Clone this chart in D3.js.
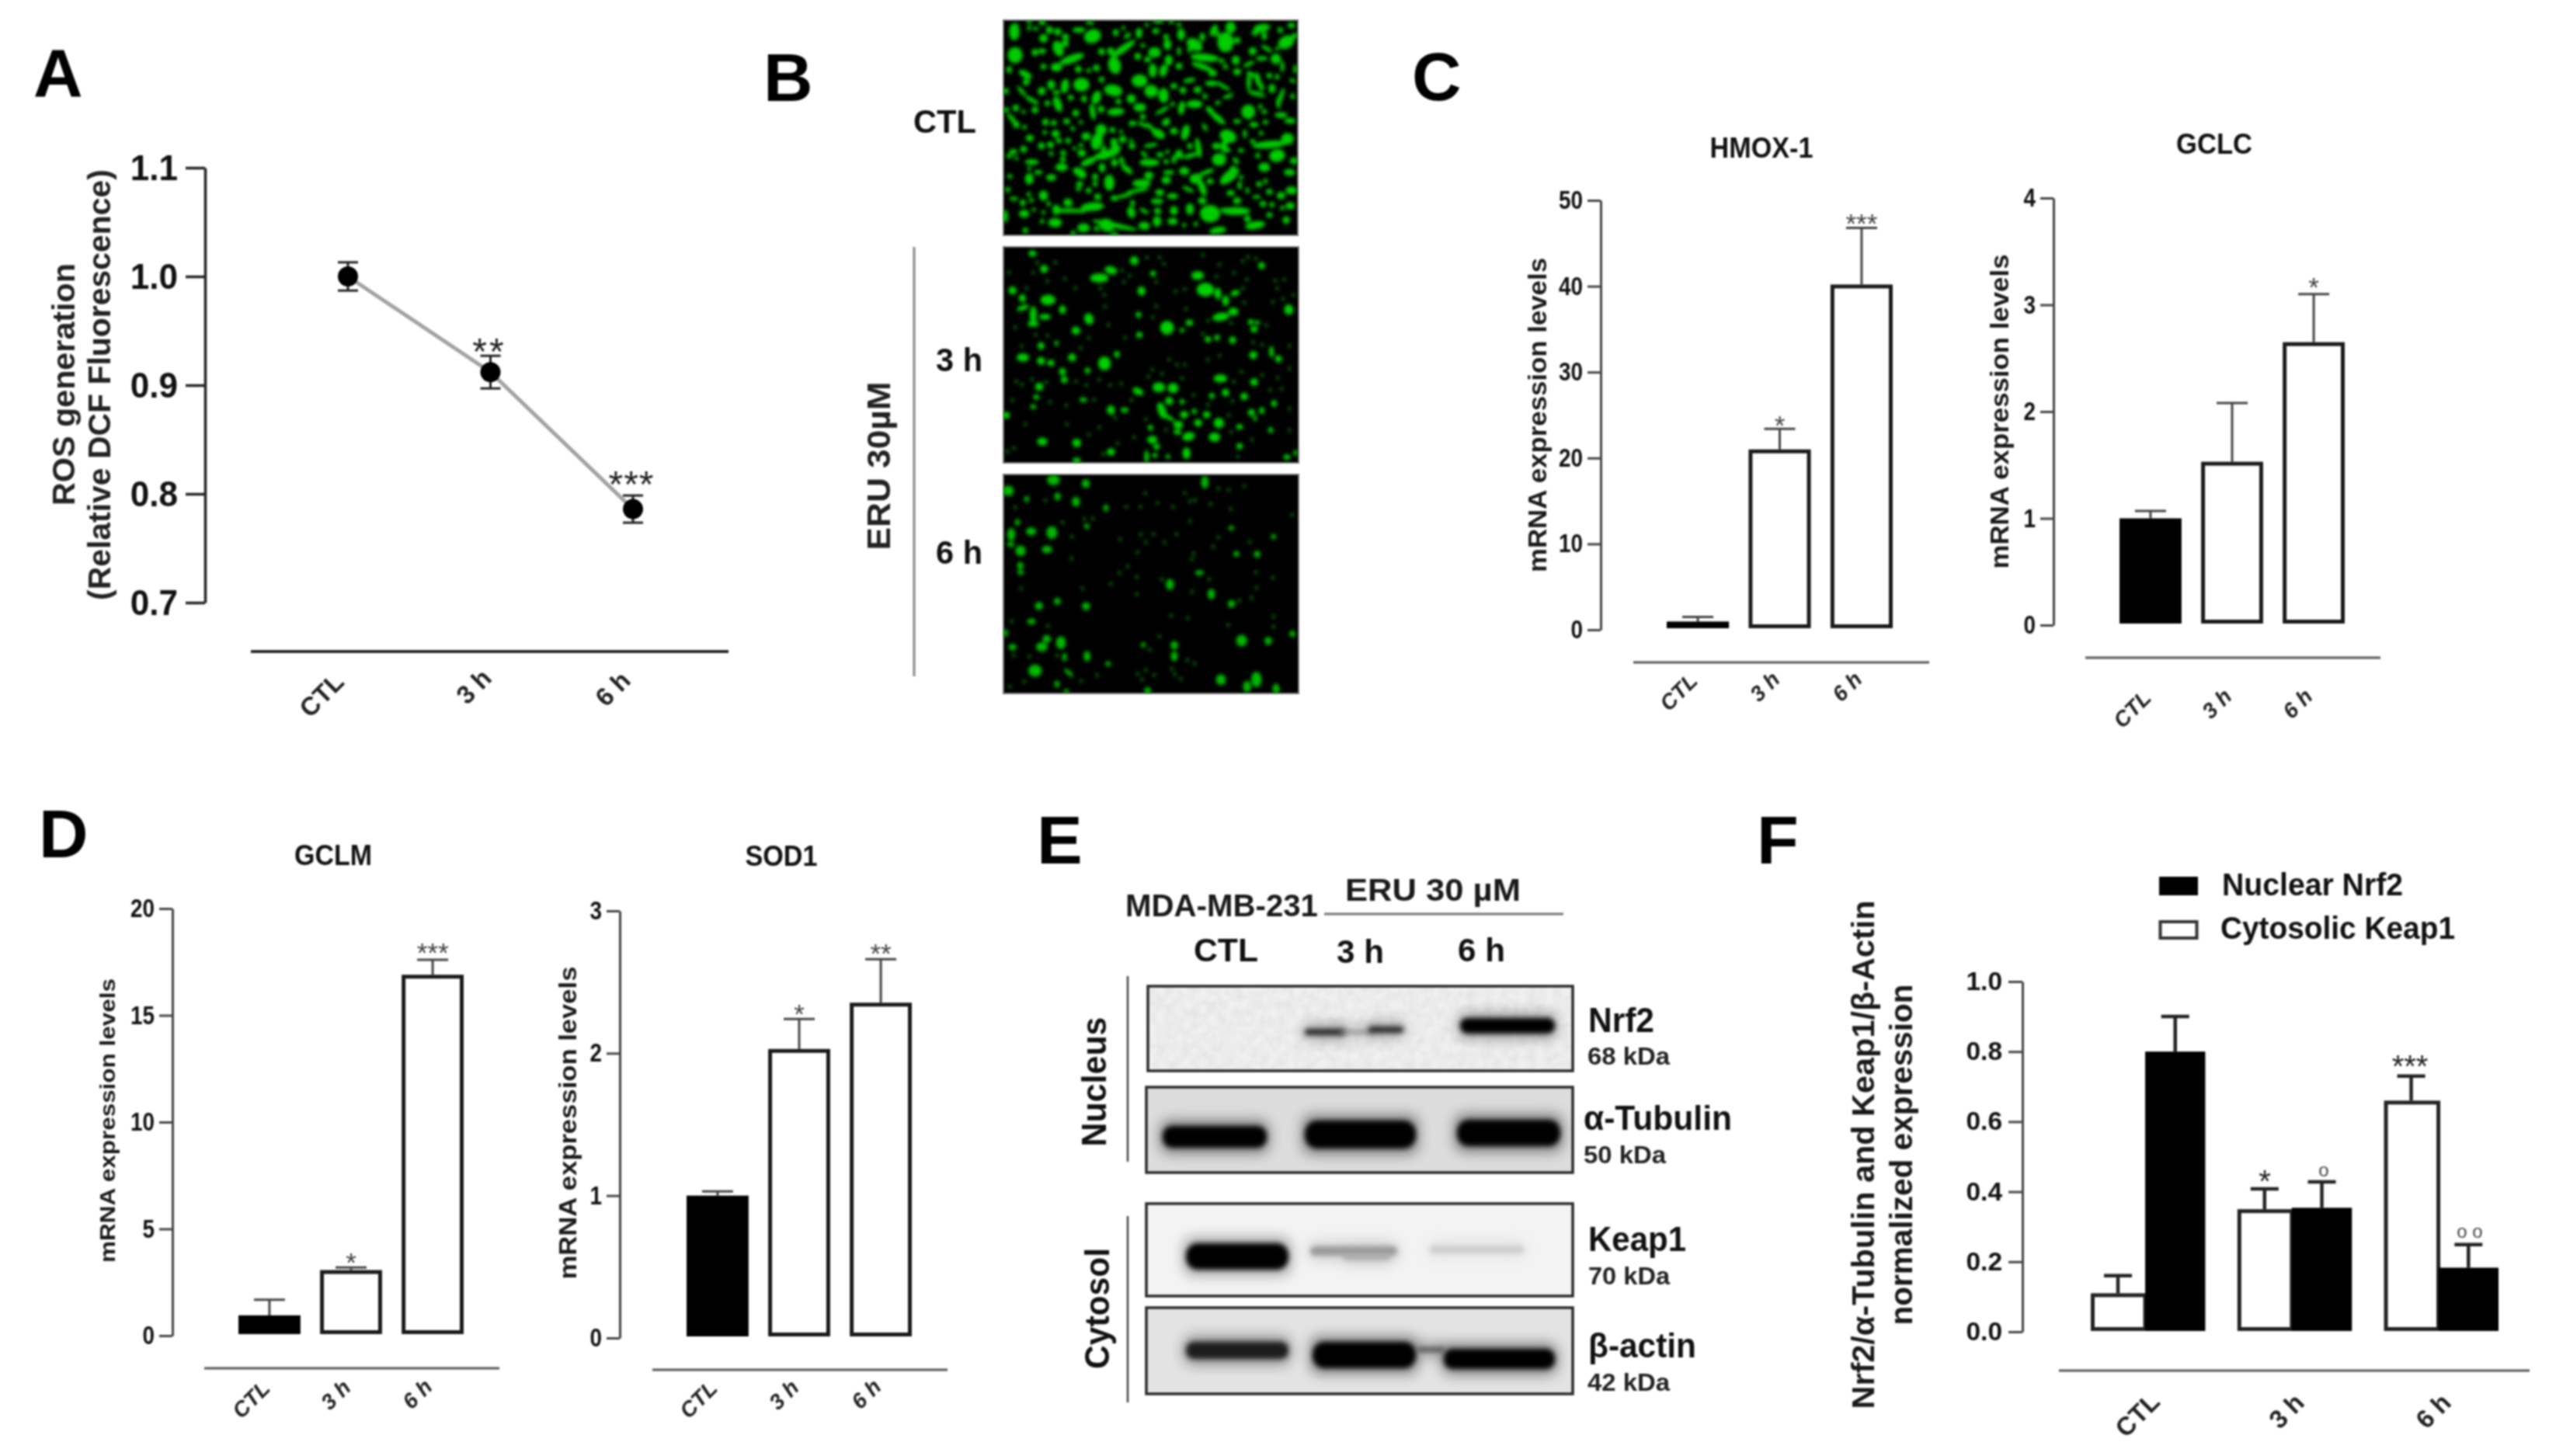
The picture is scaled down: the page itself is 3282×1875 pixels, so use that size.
<!DOCTYPE html>
<html><head><meta charset="utf-8">
<script src="https://cdnjs.cloudflare.com/ajax/libs/d3/7.8.5/d3.min.js"></script>
<style>html,body{margin:0;padding:0;background:#fff}svg{display:block;filter:blur(.8px)}</style></head>
<body><script>
// ---------- data ----------
const timeLabels = ["CTL","3 h","6 h"];
const rosMean = [1.0,0.912,0.786];
const rosErr = [0.013,0.015,0.0125];
const rosStars = ["","**","***"];
const rosTicks = [0.7,0.8,0.9,1.0,1.1];

const hmoxMean = [0.96,21,40.2], hmoxTop = [1.5,23.4,46.8], hmoxStars = ["","*","***"], hmoxTicks=[0,10,20,30,40,50];
const gclcMean = [1.0,1.53,2.65], gclcTop = [1.07,2.08,3.10], gclcStars = ["","","*"], gclcTicks=[0,1,2,3,4];
const gclmMean = [0.95,3.07,16.9], gclmTop = [1.68,3.19,17.6], gclmStars = ["","*","***"], gclmTicks=[0,5,10,15,20];
const sod1Mean = [1.0,2.03,2.355], sod1Top = [1.03,2.24,2.66], sod1Stars = ["","*","**"], sod1Ticks=[0,1,2,3];

const keap1Mean = [0.11,0.35,0.66], keap1Top = [0.16,0.408,0.73], keap1Marks = ["","*","***"];
const nrf2Mean = [0.80,0.354,0.183], nrf2Top = [0.90,0.428,0.249], nrf2Marks = ["","o","o o"];
const fTicks = [0,0.2,0.4,0.6,0.8,1.0];

// fluorescence spots: x, y, rx, ry, rotation (image pixel grid 1140 x 834)
const spotsCTL = [[42,45,18,30],[100,30,8,8],[125,32,8,8],[178,38,13,13],[210,45,13,13],[292,38,22,10],[345,62,30,24,-20],[155,70,15,15],[240,65,12,12],[242,90,10,13],[212,110,18,28,-20],[122,125,12,12],[150,120,14,10],[45,135,26,28],
[265,150,45,14,-20],[205,182,20,15],[290,190,12,12],[155,180,10,10],[22,192,10,12],[360,185,12,12],[330,195,8,8],[85,210,25,12,30],[88,240,12,12],[70,275,22,6,50],[110,310,28,8,30],[148,275,14,14],[185,250,14,16],[238,255,14,25,10],[302,250,28,24],[205,280,14,8],[8,275,12,10],[210,325,14,28,-20],[170,322,10,10],[122,348,12,12],[48,340,12,12],[10,348,12,8],[78,355,6,6],[35,385,28,8,50],[50,405,12,12],[82,415,8,8],[260,300,10,10],[312,305,10,12],[360,300,15,25,20],[425,272,32,20,10],[380,230,10,10],[445,315,10,10],[495,305,16,16],[528,338,22,15],[435,355,30,13,-5],[345,355,10,28,-10],[378,345,12,12],[280,360,12,12],[300,395,6,6],[245,392,12,10],[268,420,8,8],[163,395,12,12],[195,398,10,10],[202,440,14,14],[160,435,8,8],[102,457,14,12],[215,467,10,10],[250,467,10,10],[320,450,16,14],[378,425,20,20],[362,470,20,30,15],[422,425,10,10],[455,432,6,6],[462,462,13,13],[428,472,13,13],[495,467,7,7],[147,487,12,12],[182,483,12,12],[78,500,12,12],[38,510,14,10],[22,527,10,8],[50,535,6,6],[185,517,8,8],[232,515,10,10],[230,540,10,10],[300,485,8,8],[303,515,15,13],[275,497,6,6],[110,550,24,10],[225,570,22,14],[100,575,6,6],[330,548,30,12,-25],[400,520,45,15,-15],[385,510,8,25,15],[435,495,18,12],[430,552,12,14],[382,572,12,16],[458,545,8,16,-20],[478,578,25,10,40],[498,488,12,10],[295,590,25,15,25],[305,605,12,8],[100,615,15,20],[135,590,15,8],[185,610,18,12],[25,605,9,8],[355,608,10,12],[355,635,9,9],[410,630,18,28],[295,635,12,10],[290,655,8,8],[330,660,10,10],[17,657,9,9],[98,675,8,8],[155,680,16,18],[40,692,15,6],[75,708,10,12],[108,698,8,8],[175,712,8,8],[250,707,16,14],[365,685,12,12],[430,690,14,10],[205,735,14,18],[250,738,55,8],[345,723,40,15,-5],[300,740,20,3],[470,680,30,4,-15],[520,660,40,6,-10],[535,632,32,14],[563,602,16,14],[500,710,8,12],[495,745,14,20,-15],[545,740,18,4,30],[80,750,18,14],[7,760,10,22],[118,735,5,6],[155,745,4,5],[200,785,24,16],[150,780,8,8],[310,805,22,16],[360,808,9,9],[430,795,80,9,12],[400,795,28,22,20],[85,815,10,10],[545,797,20,14],[595,780,15,18],[595,702,22,10],[605,668,16,12],[655,682,20,10],[597,740,12,12],[660,738,14,16],[655,780,18,12],[722,732,14,20],[745,790,8,8],[700,795,6,8],[800,750,35,30],[860,735,20,6],[900,740,50,14],[905,700,14,12],[945,770,12,12],[975,795,35,14,-10],[1030,755,10,10],[1005,712,12,10],[1040,715,9,9],[1095,775,13,13],[1110,720,16,13],[1080,728,8,8],[1075,680,15,13],[1115,660,20,14],[1030,665,12,10],[980,685,15,5],[945,660,6,10],[880,670,15,10],[770,700,15,12],[770,650,12,30,-20],[745,615,22,18],[715,655,22,6,25],[800,625,12,10],[785,590,30,8,-20],[875,605,40,18,-40],[885,590,12,25,15],[915,640,8,14],[920,610,8,8],[1010,570,20,16],[1108,590,20,12],[990,635,10,10],[1015,625,6,10],[630,620,16,14],[640,590,20,8],[700,585,18,14],[660,540,8,15],[680,520,14,16],[725,525,30,8,-15],[755,495,10,35,-10],[722,488,10,10],[825,488,16,12],[855,490,12,22],[835,540,25,22],[900,545,8,14,-40],[920,505,10,8],[870,505,8,8],[635,510,6,8],[600,520,6,6],[570,485,25,6,-10],[545,520,14,5,40],[565,552,35,13],[610,522,9,9],[630,548,9,9],[780,415,15,6,60],[705,435,14,28,15],[660,430,14,12],[600,440,25,15,30],[570,415,22,5,45],[500,400,14,10],[540,405,20,4,30],[540,375,10,10],[630,395,16,12,-40],[615,350,28,7,-30],[655,325,9,7],[690,340,12,24,10],[740,325,28,14],[800,350,18,10,45],[830,380,32,11,40],[905,392,14,8],[948,355,24,25],[780,295,8,10],[830,320,10,5,-30],[870,295,20,6,-20],[850,255,30,5,30],[805,245,22,10],[720,233,22,8,-10],[752,270,14,12],[695,272,12,12],[660,255,12,10],[620,292,18,26],[572,275,24,22],[527,235,28,22],[578,195,14,25],[620,195,14,22,15],[680,178,12,12],[640,155,14,18],[430,175,22,30,-15],[465,110,50,12,-35],[415,120,12,14],[380,122,12,12],[585,125,22,18],[558,152,12,10],[520,140,12,12],[540,98,8,8],[480,60,14,8,-40],[525,50,12,18],[435,48,10,12],[590,42,12,10],[630,65,10,10],[635,95,14,18],[680,120,6,15],[688,55,14,20],[720,115,8,8],[780,145,50,14,5],[740,95,30,20,30],[770,65,10,15],[770,180,40,10,20],[810,205,15,12],[845,158,9,9],[860,180,9,9],[900,155,14,16],[905,200,14,12],[860,85,28,35],[880,28,18,20],[905,78,12,12],[815,40,12,22,25],[830,55,6,10],[965,120,14,14],[950,170,22,4,-25],[1000,148,20,8],[1055,150,18,18],[1020,110,22,6,30],[1080,180,6,20],[960,210,18,8,30],[985,230,10,25,-10],[950,240,8,30],[980,285,32,8,15],[1000,260,8,15],[1040,265,12,16],[1030,215,10,10],[1060,220,8,10],[1075,295,8,30,20],[1065,320,8,20],[1120,235,12,6,30],[1130,190,6,16],[1120,295,8,10],[1010,355,10,8],[1075,368,22,10],[1110,390,20,10],[1015,395,10,8],[970,405,16,10],[995,335,8,8],[998,438,8,8],[1100,460,22,20],[1030,482,60,13,-5],[1060,525,28,22,-10],[965,470,10,8],[985,525,9,9],[935,440,6,16],[870,450,30,22,20],[1125,545,14,12],[1000,30,30,14,-10],[1010,60,10,15],[975,50,14,8],[1072,38,10,10],[1095,85,30,22,-30],[1115,20,14,10],[1128,60,10,10],[1060,110,6,6],[680,18,8,8],[650,5,10,5],[600,5,20,5],[555,18,6,6],[335,10,15,5],[150,8,12,10],[100,5,10,5],[50,20,6,6],[465,30,4,6],[230,90,5,5],[830,815,30,12,-10],[270,825,10,8],[430,830,14,5]];
const spots3hBright = [[112,25,14,11],[157,85,14,14],[505,53,15,15],[415,90,22,14,15],[370,120,32,16],[750,110,22,15],[780,165,30,24],[828,180,12,20],[895,178,16,10,-20],[858,208,12,18],[35,168,14,14],[73,198,12,14],[172,205,26,18],[75,235,22,9,-20],[115,262,12,30],[160,270,20,10],[115,297,20,10],[228,242,12,15],[330,278,16,20,-15],[280,323,15,14],[533,170,14,16],[578,103,10,10],[522,262,10,10],[632,312,24,24],[718,293,13,11],[690,322,8,8],[840,270,30,14,-10],[888,250,18,14],[1102,242,16,18],[997,72,12,12],[955,290,10,10],[980,292,10,6],[968,318,13,11],[790,357,11,11],[825,350,10,10],[885,360,12,13],[525,340,11,11],[145,382,12,13],[205,372,8,8],[75,427,22,14],[145,440,14,14],[183,448,13,11],[265,427,14,14],[390,450,22,24],[438,415,10,12],[965,418,14,14],[1062,432,12,12],[1035,405,8,20],[228,482,12,13],[235,513,12,12],[325,478,10,10],[138,540,14,14],[838,508,24,14],[968,522,14,13],[600,542,22,17],[655,545,19,17],[520,558,20,12,25],[858,563,13,13],[930,578,13,13],[805,575,10,10],[640,595,14,14],[690,598,9,9],[612,632,14,30,-20],[640,660,22,6,30],[698,648,14,13],[785,648,13,12],[737,635,9,9],[958,640,13,12],[972,662,8,6],[998,632,9,12],[1045,605,10,12],[752,680,14,13],[832,680,18,18],[675,687,17,14],[715,732,22,15,-15],[672,715,14,9],[815,735,20,16],[568,698,10,9],[912,695,12,10],[1032,707,9,10],[575,745,18,14],[592,772,12,10],[707,797,14,20],[553,810,8,22],[585,805,9,9],[635,810,8,8],[415,630,14,16],[468,630,14,9],[415,792,14,13],[283,757,15,15],[150,752,18,14],[912,770,11,11],[283,825,14,10],[10,650,14,12],[127,580,10,9],[308,590,13,8],[115,617,10,8],[1095,812,12,10],[1128,795,6,10]];
const spots3hFaint = [[200,60],[130,60],[237,122],[170,132],[115,98],[22,98],[278,158],[375,160],[390,185],[90,160],[458,90],[487,112],[465,135],[590,135],[555,40],[603,40],[620,65],[770,32],[835,68],[823,115],[890,100],[945,38],[925,55],[975,45],[1058,160],[1040,212],[1080,200],[1120,185],[930,215],[925,160],[700,163],[665,172],[590,228],[705,240],[392,230],[577,272],[405,302],[45,310],[125,338],[170,343],[70,383],[298,390],[470,350],[330,352],[965,368],[1000,378],[1105,382],[1015,302],[790,285],[880,295],[770,335],[835,420],[790,435],[700,455],[640,435],[670,455],[575,473],[560,500],[612,490],[690,508],[920,482],[1000,495],[1060,505],[890,520],[1030,552],[1075,548],[735,572],[790,610],[870,650],[885,595],[1105,625],[455,528],[412,533],[320,533],[370,513],[50,520],[110,512],[165,522],[72,532],[35,592],[180,600],[243,612],[350,590],[495,592],[550,665],[432,660],[245,685],[85,685],[370,697],[330,725],[280,520],[505,735],[628,707],[880,715],[960,745],[1105,708],[1105,470],[440,760],[40,778],[15,790],[385,800],[905,810],[1085,125],[1050,130],[940,125]];
const spots6hBright = [[193,22,22,18],[318,35,14,15],[18,63,20,18],[778,30,13,22],[209,85,11,14],[280,105,14,17],[90,95,9,10],[396,130,9,12],[322,200,9,9],[54,185,9,11],[107,220,18,14],[187,225,19,22],[30,232,14,22],[28,270,13,9],[66,295,18,18,-20],[168,290,18,13],[65,352,11,13],[66,378,11,9],[880,207,9,9],[900,307,10,10],[980,308,11,12],[1043,240,9,9],[757,380,15,9],[643,425,14,19],[803,462,13,18],[881,500,13,13],[137,508,14,14],[208,490,12,12],[319,509,14,14],[108,568,15,10],[167,635,14,14],[222,650,17,22],[148,666,20,16],[35,667,14,11],[323,702,12,18],[236,706,8,15],[660,660,13,15],[660,702,12,17],[404,731,9,9],[122,758,23,21],[920,642,19,20],[1023,643,13,14],[1116,616,10,12],[840,793,17,19],[977,792,18,27],[941,820,14,20],[1053,828,12,18],[557,835,12,12],[207,810,9,12],[243,838,9,8],[252,766,20,6,40],[8,612,8,14],[540,658,8,9]];
const spots6hFaint = [[163,100],[45,127],[228,185],[345,170],[312,172],[265,240],[263,325],[720,180],[595,110],[740,100],[720,103],[800,115],[878,133],[1115,155],[830,55],[870,60],[548,72],[930,45],[700,72],[530,125],[475,125],[655,125],[530,232],[580,232],[450,250],[550,262],[622,262],[668,230],[830,243],[952,260],[810,280],[518,300],[735,305],[728,328],[480,355],[448,380],[612,405],[515,395],[415,422],[305,440],[68,440],[515,463],[728,452],[795,405],[975,378],[1040,400],[978,437],[958,477],[912,487],[648,545],[712,555],[1043,548],[1043,587],[868,582],[32,568],[172,585],[603,625],[565,677],[100,703],[40,700],[208,700],[738,730],[710,717],[650,750],[662,772],[550,755],[518,770],[535,792],[582,775],[362,775],[300,798],[80,800],[25,820],[685,790]];

// blot bands: x0, x1, y centre, thickness, darkness
const nrf2Bands = [[1680,1732,1329,8,"#222"],[1725,1770,1329,4,"#888"],[1762,1807,1326,8,"#222"],[1880,2002,1321,20,"#000"]];
const tubulinBands = [[1497,1631,1464,28,"#000"],[1680,1823,1461,36,"#000"],[1876,2009,1459,34,"#000"]];
const keap1Bands = [[1527,1659,1618,34,"#000"],[1687,1799,1611,12,"#999"],[1730,1790,1618,8,"#aaa"],[1841,1962,1609,10,"#ccc"]];
const actinBands = [[1527,1659,1739,22,"#1c1c1c"],[1690,1823,1745,34,"#050505"],[1825,1860,1738,5,"#444"],[1859,2002,1750,26,"#050505"]];

const W=3282,H=1875;
const svg=d3.select("body").append("svg").attr("width",W).attr("height",H).attr("viewBox",`0 0 ${W} ${H}`);
const SANS="'Liberation Sans',Arial,sans-serif";
const defs=svg.append("defs");
[["b2",3],["b8",8],["spot",2.3]].forEach(([id,s])=>defs.append("filter").attr("id",id).attr("x","-30%").attr("y","-80%").attr("width","160%").attr("height","260%").append("feGaussianBlur").attr("stdDeviation",s));
const noise=defs.append("filter").attr("id","grain").attr("x",0).attr("y",0).attr("width","100%").attr("height","100%");
noise.append("feTurbulence").attr("type","fractalNoise").attr("baseFrequency",0.09).attr("numOctaves",3).attr("seed",4);
noise.append("feColorMatrix").attr("values","0 0 0 0 0.5  0 0 0 0 0.5  0 0 0 0 0.5  0.4 0 0 0 -0.12");

function txt(str,x,y,o={}){
  const t=svg.append("text").text(str)
    .attr("transform",`translate(${x},${y})`+(o.rot?` rotate(${o.rot})`:""))
    .attr("font-family",SANS).attr("font-size",o.size||30)
    .attr("font-weight",o.weight||"bold").attr("font-style",o.style||"normal")
    .attr("text-anchor",o.anchor||"start").attr("fill",o.fill||"#111");
  if(o.len) t.attr("textLength",o.len).attr("lengthAdjust","spacingAndGlyphs");
  if(o.ls) t.attr("letter-spacing",o.ls);
  return t;
}
function marker(str,x,cy,size,fill,ls){
  if(!str) return;
  txt(str,x,cy+size*.52,{size,weight:"normal",anchor:"middle",fill:fill||"#333",ls});
}
function panelLetter(s,x,y){txt(s,x,y,{size:88,fill:"#000"});}

function yAxis(scale,x,ticks,fmt,o){
  const g=svg.append("g").attr("transform",`translate(${x},0)`)
    .call(d3.axisLeft(scale).tickValues(ticks).tickFormat(fmt).tickSize(o.tick).tickSizeOuter(0).tickPadding(o.pad));
  g.selectAll("path,line").attr("stroke",o.color||"#333").attr("stroke-width",o.sw||3);
  g.selectAll("text").attr("font-family",SANS).attr("font-size",o.size).attr("font-weight","bold").attr("fill","#111")
    .attr("textLength",d=>fmt(d).replace(".","").length*o.digit+(fmt(d).includes(".")?o.digit*.45:0)).attr("lengthAdjust","spacingAndGlyphs");
  g.attr("font-family",null).attr("font-size",null);
  return g;
}
function xBaseline(x0,x1,y,color,sw){
  svg.append("line").attr("x1",x0).attr("x2",x1).attr("y1",y).attr("y2",y).attr("stroke",color||"#444").attr("stroke-width",sw||3);
}
function rotLabels(xs,ys,size,style){
  timeLabels.forEach((d,i)=>txt(d,xs[i],ys[i],{size,rot:-45,anchor:"middle",weight:"bold",style:style,fill:"#222"}));
}

// ---------- A ----------
panelLetter("A",43,124);
{
  const y=d3.scaleLinear().domain([0.7,1.1]).range([776,216]);
  const x=d3.scalePoint().domain(timeLabels).range([448,815]);
  yAxis(y,264,rosTicks,d3.format(".1f"),{tick:25,pad:10,size:47,sw:3.5,color:"#222",digit:25});
  xBaseline(323,938,839,"#111",3.5);
  svg.append("path").datum(rosMean).attr("fill","none").attr("stroke","#a3a3a3").attr("stroke-width",5)
    .attr("d",d3.line().x((d,i)=>x(timeLabels[i])).y(d=>y(d)));
  timeLabels.forEach((d,i)=>{
    const g=svg.append("g");
    g.append("line").attr("x1",x(d)).attr("x2",x(d)).attr("y1",y(rosMean[i]-rosErr[i])).attr("y2",y(rosMean[i]+rosErr[i])).attr("stroke","#222").attr("stroke-width",3);
    [-1,1].forEach(s=>g.append("line").attr("x1",x(d)-13).attr("x2",x(d)+13).attr("y1",y(rosMean[i]+s*rosErr[i])).attr("y2",y(rosMean[i]+s*rosErr[i])).attr("stroke","#222").attr("stroke-width",3));
    g.append("circle").attr("cx",x(d)).attr("cy",y(rosMean[i])).attr("r",13).attr("fill","#000");
  });
  marker(rosStars[1],630,444,48,"#222",3); marker(rosStars[2],813,615,48,"#222",1);
  txt("ROS generation",96,495,{rot:-90,anchor:"middle",size:40,len:312,fill:"#222"});
  txt("(Relative DCF Fluorescence)",142,495.5,{rot:-90,anchor:"middle",size:40,len:555,fill:"#222"});
  rotLabels([422,618,797],[903,892,895],33);
}

// ---------- B ----------
panelLetter("B",983,130);
function micrograph(x0,x1,y0,y1,gridH,bright,faint,col){
  const g=svg.append("g");
  const clipId="c"+y0;
  defs.append("clipPath").attr("id",clipId).append("rect").attr("x",x0).attr("y",y0).attr("width",x1-x0).attr("height",y1-y0);
  g.append("rect").attr("x",x0).attr("y",y0).attr("width",x1-x0).attr("height",y1-y0).attr("fill","#000").attr("stroke","#777").attr("stroke-width",2);
  const sx=d3.scaleLinear().domain([0,1140]).range([x0,x1]), sy=d3.scaleLinear().domain([0,gridH]).range([y0,y1]);
  const k=(x1-x0)/1140;
  const inner=g.append("g").attr("clip-path",`url(#${clipId})`).append("g").attr("filter","url(#spot)");
  inner.selectAll("ellipse.f").data(faint).join("ellipse").attr("class","f")
    .attr("cx",d=>sx(d[0])).attr("cy",d=>sy(d[1])).attr("rx",8*k).attr("ry",9*k).attr("fill","#0a4f0a");
  inner.selectAll("ellipse.b").data(bright).join("ellipse").attr("class","b")
    .attr("transform",d=>`translate(${sx(d[0])},${sy(d[1])}) rotate(${d[4]||0})`)
    .attr("rx",d=>Math.max(d[2],7)*k*1.12).attr("ry",d=>Math.max(d[3],7)*k*1.12).attr("fill",col);
}
micrograph(1292,1671,26,303,834,spotsCTL,[], "#00cc00");
micrograph(1292,1672,318,596,834,spots3hBright,spots3hFaint,"#00d000");
micrograph(1292,1672,611,893,846,spots6hBright,spots6hFaint,"#00b800");
txt("CTL",1176,171,{size:42,len:81,fill:"#111"});
txt("3 h",1205,478,{size:42,len:60,fill:"#111"});
txt("6 h",1205,726,{size:42,len:60,fill:"#111"});
txt("ERU  30µM",1146,600,{rot:-90,anchor:"middle",size:42,len:217,fill:"#222"});
svg.append("line").attr("x1",1177).attr("x2",1177).attr("y1",318).attr("y2",871).attr("stroke","#888").attr("stroke-width",3);

// ---------- bar panels C, D ----------
function barPanel(c){
  const y=d3.scaleLinear().domain(c.domain).range([c.y0,c.yTop]);
  const x=d3.scaleBand().domain(timeLabels).range(c.bars).paddingInner(c.gap);
  yAxis(y,c.axisX,c.ticks,d3.format("d"),{tick:17,pad:6,size:33,color:"#444",digit:15.5});
  xBaseline(c.base[0],c.base[1],c.base[2],"#555",3);
  const bottom=c.y0-2, bw=x.bandwidth();
  timeLabels.forEach((d,i)=>{
    const cx=x(d)+bw/2;
    svg.append("line").attr("x1",cx).attr("x2",cx).attr("y1",y(c.mean[i])).attr("y2",y(c.top[i])).attr("stroke","#444").attr("stroke-width",3);
    svg.append("line").attr("x1",cx-20).attr("x2",cx+20).attr("y1",y(c.top[i])).attr("y2",y(c.top[i])).attr("stroke","#444").attr("stroke-width",3);
    if(i===0){
      svg.append("rect").attr("x",x(d)).attr("y",y(c.mean[i])).attr("width",bw).attr("height",bottom-y(c.mean[i])).attr("fill","#000");
    }else{
      svg.append("rect").attr("x",x(d)+2.5).attr("y",y(c.mean[i])+2.5).attr("width",bw-5).attr("height",bottom-y(c.mean[i])-5).attr("fill","#fff").attr("stroke","#1a1a1a").attr("stroke-width",5);
    }
    marker(c.stars[i],cx,c.starY[i],35,"#444");
  });
  txt(c.title,c.titleX,c.titleY,{anchor:"middle",size:37,len:c.titleW,fill:"#111"});
  txt("mRNA expression levels",c.labelX,c.labelY,{rot:-90,anchor:"middle",size:c.labelSize,len:c.labelLen,fill:"#1a1a1a"});
  rotLabels(c.lx,c.ly,28,"italic");
}
panelLetter("C",1818,129);
barPanel({domain:[0,50],y0:811,yTop:258,bars:[2146,2437],gap:.24,axisX:2061,ticks:hmoxTicks,mean:hmoxMean,top:hmoxTop,stars:hmoxStars,starY:[0,542,282],
  base:[2103,2484,853],title:"HMOX-1",titleX:2268,titleY:203,titleW:133,labelX:1991,labelY:534.5,labelLen:405,labelSize:33,lx:[2168,2279,2385],ly:[898,891,891]});
barPanel({domain:[0,4],y0:805,yTop:255,bars:[2729,3019],gap:.24,axisX:2644,ticks:gclcTicks,mean:gclcMean,top:gclcTop,stars:gclcStars,starY:[0,0,364],
  base:[2685,3065,847],title:"GCLC",titleX:2851,titleY:198,titleW:98,labelX:2586,labelY:530,labelLen:405,labelSize:33,lx:[2752,2861,2965],ly:[920,913,913]});
panelLetter("D",50,1104);
barPanel({domain:[0,20],y0:1720,yTop:1170,bars:[307,597],gap:.24,axisX:222,ticks:gclmTicks,mean:gclmMean,top:gclmTop,stars:gclmStars,starY:[0,1620,1221],
  base:[263,643,1762],title:"GCLM",titleX:429,titleY:1114,titleW:100,labelX:148,labelY:1443,labelLen:366,labelSize:28,lx:[330,439,544],ly:[1809,1803,1802]});
barPanel({domain:[0,3],y0:1723,yTop:1173,bars:[884,1174],gap:.24,axisX:798,ticks:sod1Ticks,mean:sod1Mean,top:sod1Top,stars:sod1Stars,starY:[0,1300,1222],
  base:[840,1220,1764],title:"SOD1",titleX:1006,titleY:1115,titleW:93,labelX:742,labelY:1446,labelLen:403,labelSize:31,lx:[906,1016,1122],ly:[1809,1803,1802]});

// ---------- E ----------
panelLetter("E",1335,1112);
function blot(x0,x1,y0,y1,bg,bands,grain,haloOp){
  const id="b"+y0;
  defs.append("clipPath").attr("id",id).append("rect").attr("x",x0).attr("y",y0).attr("width",x1-x0).attr("height",y1-y0);
  svg.append("rect").attr("x",x0).attr("y",y0).attr("width",x1-x0).attr("height",y1-y0).attr("fill",bg);
  const g=svg.append("g").attr("clip-path",`url(#${id})`);
  if(grain) g.append("rect").attr("x",x0).attr("y",y0).attr("width",x1-x0).attr("height",y1-y0).attr("filter","url(#grain)");
  g.selectAll("rect.h").data(bands).join("rect").attr("class","h")
    .attr("x",d=>d[0]-4).attr("width",d=>d[1]-d[0]+8).attr("y",d=>d[2]-d[3]/2-8).attr("height",d=>d[3]+16).attr("rx",14)
    .attr("fill",d=>d[4]).attr("opacity",haloOp).attr("filter","url(#b8)");
  g.selectAll("rect.c").data(bands).join("rect").attr("class","c")
    .attr("x",d=>d[0]).attr("width",d=>d[1]-d[0]).attr("y",d=>d[2]-d[3]/2).attr("height",d=>d[3]).attr("rx",d=>d[3]/2.2)
    .attr("fill",d=>d[4]).attr("filter","url(#b2)");
  svg.append("rect").attr("x",x0).attr("y",y0).attr("width",x1-x0).attr("height",y1-y0).attr("fill","none").attr("stroke","#2a2a2a").attr("stroke-width",3.5);
}
blot(1478,2025,1270,1379,"#f0f0f0",nrf2Bands,true,.3);
blot(1476,2025,1400,1510,"#dcdcdc",tubulinBands,false,.4);
blot(1476,2025,1550,1669,"#f3f3f3",keap1Bands,false,.3);
blot(1476,2025,1684,1795,"#e3e3e3",actinBands,false,.4);
txt("MDA-MB-231",1449,1180,{size:41,len:248,fill:"#1a1a1a"});
txt("ERU 30 µM",1732,1160,{size:41,len:226,fill:"#1a1a1a"});
svg.append("line").attr("x1",1705).attr("x2",2013).attr("y1",1177).attr("y2",1177).attr("stroke","#777").attr("stroke-width",3);
txt("CTL",1537,1238,{size:43,len:83,fill:"#111"});
txt("3 h",1721,1240,{size:43,len:61,fill:"#111"});
txt("6 h",1877,1238,{size:43,len:61,fill:"#111"});
[[1257,1496],[1566,1806]].forEach(d=>svg.append("line").attr("x1",1452).attr("x2",1452).attr("y1",d[0]).attr("y2",d[1]).attr("stroke","#444").attr("stroke-width",2.5));
txt("Nucleus",1424,1393,{rot:-90,anchor:"middle",size:44,len:167,fill:"#111"});
txt("Cytosol",1428,1685,{rot:-90,anchor:"middle",size:44,len:156,fill:"#111"});
[["Nrf2",2045,1329,85],["α-Tubulin",2039,1455,191],["Keap1",2045,1611,126],["β-actin",2045,1748,139]].forEach(d=>txt(d[0],d[1],d[2],{size:44,len:d[3],fill:"#111"}));
[["68 kDa",2044,1371,106],["50 kDa",2039,1498,106],["70 kDa",2045,1654,105],["42 kDa",2044,1791,106]].forEach(d=>txt(d[0],d[1],d[2],{size:32,len:d[3],fill:"#222"}));

// ---------- F ----------
panelLetter("F",2262,1112);
{
  const y=d3.scaleLinear().domain([0,1]).range([1715,1264]);
  const group=d3.scaleBand().domain(timeLabels).range([2692,3217]).paddingInner(.219);
  yAxis(y,2604,fTicks,d3.format(".1f"),{tick:18,pad:8,size:33,color:"#444",digit:19});
  xBaseline(2651,3257,1765,"#555",3);
  const bottom=1714, bw=group.bandwidth(), whiteW=bw*.475, blackW=bw-whiteW;
  const err=(cx,a,b)=>{
    svg.append("line").attr("x1",cx).attr("x2",cx).attr("y1",y(a)).attr("y2",y(b)).attr("stroke","#222").attr("stroke-width",4.5);
    svg.append("line").attr("x1",cx-18).attr("x2",cx+18).attr("y1",y(b)).attr("y2",y(b)).attr("stroke","#222").attr("stroke-width",4.5);
  };
  timeLabels.forEach((d,i)=>{
    const xk=group(d), xn=group(d)+whiteW;
    err(xk+whiteW/2,keap1Mean[i],keap1Top[i]); err(xn+blackW/2,nrf2Mean[i],nrf2Top[i]);
    svg.append("rect").attr("x",xk+2.5).attr("y",y(keap1Mean[i])+2.5).attr("width",whiteW-2.5).attr("height",bottom-y(keap1Mean[i])-5).attr("fill","#fff").attr("stroke","#222").attr("stroke-width",5);
    svg.append("rect").attr("x",xn).attr("y",y(nrf2Mean[i])).attr("width",blackW).attr("height",bottom-y(nrf2Mean[i])).attr("fill","#000");
  });
  marker(keap1Marks[1],2916,1514,40,"#222"); marker(keap1Marks[2],3103,1366,40,"#222");
  txt(nrf2Marks[1],2992,1515,{size:24,weight:"normal",anchor:"middle",fill:"#444"});
  txt(nrf2Marks[2],3180,1594,{size:24,weight:"normal",anchor:"middle",fill:"#444"});
  svg.append("rect").attr("x",2780).attr("y",1129).attr("width",50).attr("height",24).attr("fill","#000");
  svg.append("rect").attr("x",2781.5).attr("y",1187).attr("width",47).attr("height",21).attr("fill","#fff").attr("stroke","#333").attr("stroke-width",4);
  txt("Nuclear Nrf2",2861,1153,{size:40,len:233,fill:"#111"});
  txt("Cytosolic Keap1",2859,1209,{size:40,len:302,fill:"#111"});
  txt("Nrf2/α-Tubulin and Keap1/β-Actin",2413,1487,{rot:-90,anchor:"middle",size:40,len:655,fill:"#1a1a1a"});
  txt("normalized expression",2462,1487,{rot:-90,anchor:"middle",size:40,len:439,fill:"#1a1a1a"});
  rotLabels([2760,2952,3141],[1830,1825,1825],33);
}
</script></body></html>
